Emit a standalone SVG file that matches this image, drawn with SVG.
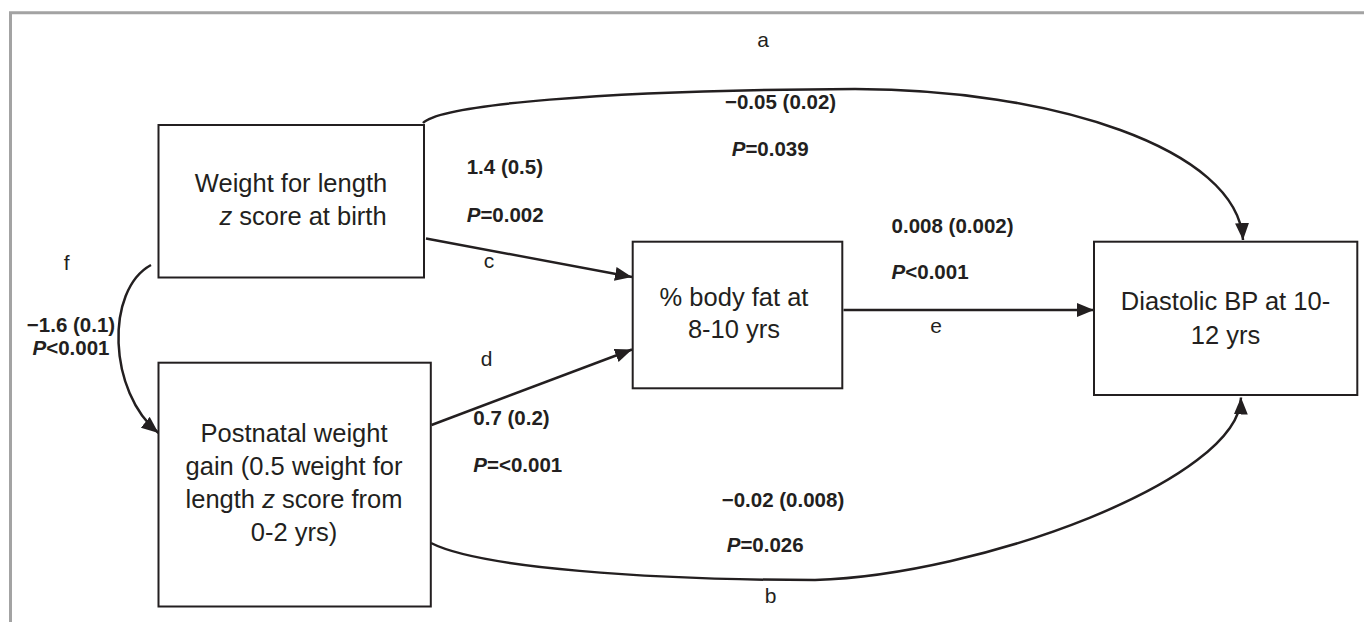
<svg xmlns="http://www.w3.org/2000/svg" width="1364" height="622" viewBox="0 0 1364 622">
  <style>
    .frame { fill: none; stroke: #a3a3a3; stroke-width: 3; }
    .box { fill: #ffffff; stroke: #231f20; stroke-width: 2; }
    .conn { fill: none; stroke: #231f20; stroke-width: 2.5; }
    .node-text { font-family: "Liberation Sans", Arial, sans-serif; font-size: 25.5px; fill: #231f20; text-anchor: middle; }
    .coef { font-family: "Liberation Sans", Arial, sans-serif; font-size: 20.5px; font-weight: bold; fill: #231f20; }
    .letter { font-family: "Liberation Sans", Arial, sans-serif; font-size: 21px; fill: #231f20; text-anchor: middle; }
    .it { font-style: italic; }
  </style>
  <defs>
    <marker id="arrow" markerUnits="userSpaceOnUse" markerWidth="18" markerHeight="15" refX="17" refY="7" orient="auto">
      <path d="M0,0 L17,7 L0,14 Z" fill="#231f20"/>
    </marker>
  </defs>

  <rect width="1364" height="622" fill="#ffffff"/>
  <path class="frame" d="M10.5,622 V12.7 H1364"/>

  <g id="connectors">
    <path id="edge-a" class="conn" d="M423,123 C440,105 600,90 855,89 C1050,89 1238,148 1243,240" marker-end="url(#arrow)"/>
    <path id="edge-b" class="conn" d="M431,543 C480,568 650,580 815,580 C980,575 1240,480 1241,397.5" marker-end="url(#arrow)"/>
    <path id="edge-c" class="conn" d="M426,238.5 L632,277" marker-end="url(#arrow)"/>
    <path id="edge-d" class="conn" d="M431.5,425 L632,349.5" marker-end="url(#arrow)"/>
    <path id="edge-e" class="conn" d="M843.5,310 L1094,310" marker-end="url(#arrow)"/>
    <path id="edge-f" class="conn" d="M151,265 C105,290 108,392 158.5,433" marker-end="url(#arrow)"/>
  </g>

  <g id="node-birth">
    <rect class="box" x="158.5" y="125" width="265.5" height="152.5"/>
    <text class="node-text" x="291" y="192">Weight for length</text>
    <text class="node-text" x="303" y="225"><tspan class="it">z</tspan> score at birth</text>
  </g>

  <g id="node-postnatal">
    <rect class="box" x="158.5" y="362.7" width="272.3" height="243.8"/>
    <text class="node-text" x="294" y="441.7">Postnatal weight</text>
    <text class="node-text" x="294" y="474.7">gain (0.5 weight for</text>
    <text class="node-text" x="294" y="507.7">length <tspan class="it">z</tspan> score from</text>
    <text class="node-text" x="294" y="540.7">0-2 yrs)</text>
  </g>

  <g id="node-bodyfat">
    <rect class="box" x="632.7" y="241.7" width="209.6" height="146.6"/>
    <text class="node-text" x="734" y="306">% body fat at</text>
    <text class="node-text" x="734" y="338.3">8-10 yrs</text>
  </g>

  <g id="node-dbp">
    <rect class="box" x="1094" y="241.7" width="263.3" height="153.3"/>
    <text class="node-text" x="1225.5" y="310">Diastolic BP at 10-</text>
    <text class="node-text" x="1225.5" y="344">12 yrs</text>
  </g>

  <g id="labels">
    <text class="letter" x="763" y="46.7">a</text>
    <text class="coef" x="725" y="109.3">−0.05 (0.02)</text>
    <text class="coef" x="731.7" y="156"><tspan class="it">P</tspan>=0.039</text>

    <text class="coef" x="466.7" y="174">1.4 (0.5)</text>
    <text class="coef" x="466.7" y="221.7"><tspan class="it">P</tspan>=0.002</text>
    <text class="letter" x="489" y="267.7">c</text>

    <text class="letter" x="486.7" y="366">d</text>
    <text class="coef" x="473.3" y="425">0.7 (0.2)</text>
    <text class="coef" x="473.3" y="471.7"><tspan class="it">P</tspan>=&lt;0.001</text>

    <text class="coef" x="891.6" y="233.3">0.008 (0.002)</text>
    <text class="coef" x="891.6" y="279.3"><tspan class="it">P</tspan>&lt;0.001</text>
    <text class="letter" x="936" y="332.7">e</text>

    <text class="coef" x="721.7" y="506.7">−0.02 (0.008)</text>
    <text class="coef" x="726.7" y="551.7"><tspan class="it">P</tspan>=0.026</text>
    <text class="letter" x="770.5" y="602.7">b</text>

    <text class="letter" x="66.7" y="270">f</text>
    <text class="coef" x="71" y="331.7" text-anchor="middle">−1.6 (0.1)</text>
    <text class="coef" x="71" y="355" text-anchor="middle"><tspan class="it">P</tspan>&lt;0.001</text>
  </g>
</svg>
